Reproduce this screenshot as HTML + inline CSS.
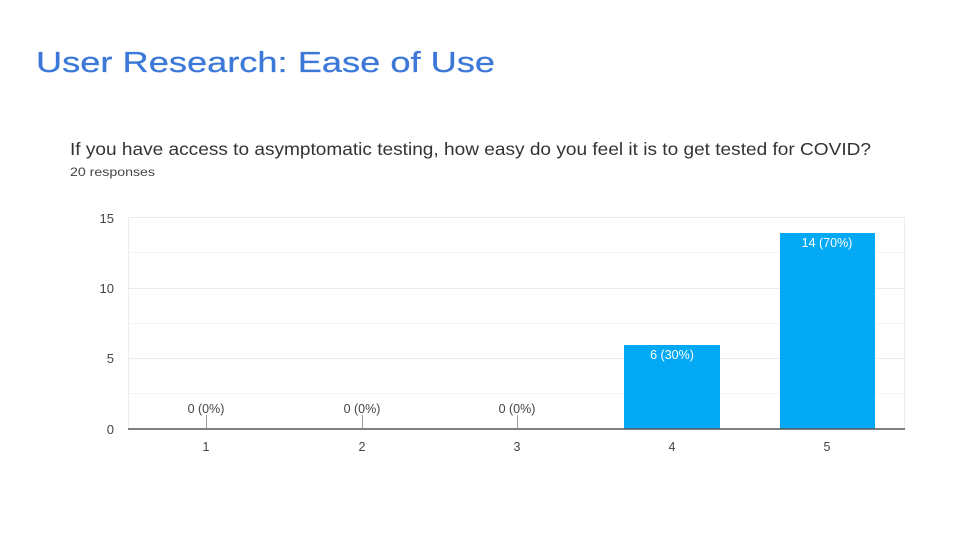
<!DOCTYPE html>
<html><head><meta charset="utf-8"><style>
html,body{margin:0;padding:0;background:#fff;}
svg{display:block;}
</style></head><body>
<svg width="960" height="540" viewBox="0 0 960 540" xmlns="http://www.w3.org/2000/svg" font-family="Liberation Sans, Arial, sans-serif">
<rect width="960" height="540" fill="#fff"/>
<text x="36" y="72" font-size="29" fill="#3c78d8" stroke="#3c78d8" stroke-width="0.25" textLength="459" lengthAdjust="spacingAndGlyphs">User Research: Ease of Use</text>
<text x="70" y="155" font-size="17.5" fill="#333" textLength="801" lengthAdjust="spacingAndGlyphs">If you have access to asymptomatic testing, how easy do you feel it is to get tested for COVID?</text>
<text x="70" y="176" font-size="12" fill="#444" textLength="85" lengthAdjust="spacingAndGlyphs">20 responses</text>
<g stroke="#ececec" stroke-width="1">
<line x1="128" y1="217.5" x2="905" y2="217.5"/>
<line x1="128" y1="252.5" x2="905" y2="252.5" stroke="#f4f4f4"/>
<line x1="128" y1="288.5" x2="905" y2="288.5"/>
<line x1="128" y1="323.5" x2="905" y2="323.5" stroke="#f4f4f4"/>
<line x1="128" y1="358.5" x2="905" y2="358.5"/>
<line x1="128" y1="393.5" x2="905" y2="393.5" stroke="#f4f4f4"/>
<line x1="128.5" y1="217" x2="128.5" y2="429"/>
<line x1="904.5" y1="217" x2="904.5" y2="429"/>
</g>
<rect x="624" y="345" width="96" height="84" fill="#03a9f4"/>
<rect x="780" y="233" width="95" height="196" fill="#03a9f4"/>
<line x1="128" y1="429" x2="905" y2="429" stroke="#555" stroke-width="1.6"/>
<g stroke="#999" stroke-width="1">
<line x1="206.5" y1="415" x2="206.5" y2="429"/>
<line x1="362.5" y1="415" x2="362.5" y2="429"/>
<line x1="517.5" y1="415" x2="517.5" y2="429"/>
</g>
<g font-size="13" fill="#444" text-anchor="end">
<text x="114" y="223">15</text>
<text x="114" y="293">10</text>
<text x="114" y="363">5</text>
<text x="114" y="434">0</text>
</g>
<g font-size="12.5" fill="#444" text-anchor="middle">
<text x="206" y="451">1</text>
<text x="362" y="451">2</text>
<text x="517" y="451">3</text>
<text x="672" y="451">4</text>
<text x="827" y="451">5</text>
<text x="206" y="413">0 (0%)</text>
<text x="362" y="413">0 (0%)</text>
<text x="517" y="413">0 (0%)</text>
</g>
<g font-size="12.5" fill="#fff" text-anchor="middle">
<text x="672" y="359">6 (30%)</text>
<text x="827" y="247">14 (70%)</text>
</g>
</svg>
</body></html>
